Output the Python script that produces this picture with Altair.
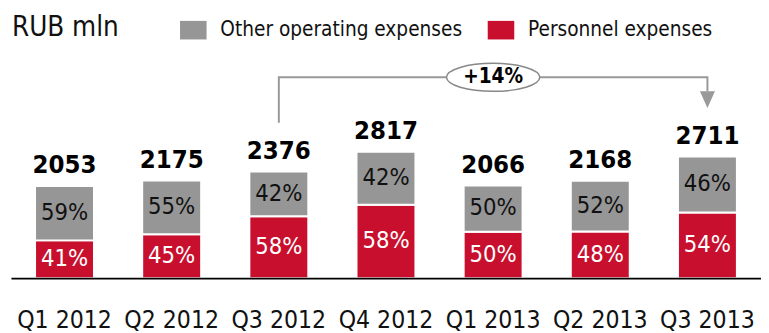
import altair as alt
import pandas as pd

quarters = ["Q1 2012", "Q2 2012", "Q3 2012", "Q4 2012", "Q1 2013", "Q2 2013", "Q3 2013"]
totals = [2053, 2175, 2376, 2817, 2066, 2168, 2711]
personnel_pct = [41, 45, 58, 58, 50, 48, 54]
other_pct = [59, 55, 42, 42, 50, 52, 46]
series_names = ["Other operating expenses", "Personnel expenses"]
growth_label = "+14%"
growth_from = "Q3 2012"
growth_to = "Q3 2013"
unit_label = "RUB mln"

GRAY = "#969696"
RED = "#C8102E"
FONT = "DejaVu Sans Condensed"

# bracket levels in data units
Y_MAX = 5957
BRACKET_START = 3460
BRACKET_LEVEL = 4474
ARROW_END = 4161
ARROW_TIP = 3975

rows = []
for q, t, pp, op in zip(quarters, totals, personnel_pct, other_pct):
    pers = t * pp / 100.0
    rows.append({"q": q, "series": series_names[1], "y0": 0, "y1": pers, "mid": pers / 2,
                 "pct": f"{pp}%", "tcolor": "white"})
    rows.append({"q": q, "series": series_names[0], "y0": pers, "y1": t, "mid": (pers + t) / 2,
                 "pct": f"{op}%", "tcolor": "#111111"})
seg = pd.DataFrame(rows)
tot = pd.DataFrame({"q": quarters, "total": totals})

xscale = alt.Scale(domain=quarters, paddingInner=0.45, paddingOuter=0.225)
yscale = alt.Scale(domain=[0, Y_MAX], nice=False, zero=True)

x_enc = alt.X("q:N", scale=xscale, sort=quarters,
              axis=alt.Axis(title=None, labelAngle=0, ticks=False, labelFont=FONT,
                            labelFontSize=25, labelColor="#111111", labelBaseline="alphabetic",
                            labelPadding=50, domainColor="black", domainWidth=2, zindex=1,
                            grid=False))

bars = alt.Chart(seg).mark_bar(stroke="white", strokeWidth=2).encode(
    x=x_enc,
    y=alt.Y("y1:Q", scale=yscale, axis=None),
    y2="y0:Q",
    color=alt.Color("series:N",
                    scale=alt.Scale(domain=series_names, range=[GRAY, RED]),
                    legend=alt.Legend(title=None, orient="none", legendX=172, legendY=6,
                                      direction="horizontal", labelFont=FONT,
                                      labelFontSize=21, labelColor="#111111",
                                      labelOffset=14, columnPadding=25, labelLimit=1000,
                                      symbolType="M-1,-0.7 L1,-0.7 L1,0.7 L-1,0.7 Z",
                                      symbolSize=729, symbolStrokeWidth=0,
                                      symbolOpacity=1)),
)

pct_text = alt.Chart(seg).mark_text(font=FONT, fontSize=24, baseline="middle").encode(
    x=alt.X("q:N", scale=xscale, sort=quarters),
    y=alt.Y("mid:Q", scale=yscale),
    text="pct:N",
    color=alt.Color("tcolor:N", scale=None),
)

tot_text = alt.Chart(tot).mark_text(font=FONT, fontSize=26, fontWeight="bold",
                                    baseline="alphabetic", dy=-13, color="black").encode(
    x=alt.X("q:N", scale=xscale, sort=quarters),
    y=alt.Y("total:Q", scale=yscale),
    text=alt.Text("total:Q", format="d"),
)

bracket = pd.DataFrame({
    "q": [growth_from, growth_from, growth_to, growth_to],
    "v": [BRACKET_START, BRACKET_LEVEL, BRACKET_LEVEL, ARROW_END],
    "o": [0, 1, 2, 3],
})
bracket_line = alt.Chart(bracket).mark_line(color="#999999", strokeWidth=2).encode(
    x=alt.X("q:N", scale=xscale, sort=quarters),
    y=alt.Y("v:Q", scale=yscale),
    order="o:Q",
)

arrow = alt.Chart(pd.DataFrame({"q": [growth_to], "v": [ARROW_TIP]})).mark_point(
    shape="M-0.9,-1 L0.9,-1 L0,1 Z", size=289, filled=True, color="#999999", opacity=1
).encode(x=alt.X("q:N", scale=xscale, sort=quarters), y=alt.Y("v:Q", scale=yscale))

mid_q = quarters[(quarters.index(growth_from) + quarters.index(growth_to)) // 2]
badge = pd.DataFrame({"q": [mid_q], "v": [BRACKET_LEVEL], "t": [growth_label]})
ellipse = alt.Chart(badge).mark_point(
    shape="M-1,0 A1,0.3 0 1,0 1,0 A1,0.3 0 1,0 -1,0 Z", size=9000, filled=True,
    fill="white", stroke="#888888", strokeWidth=1.5, opacity=1
).encode(x=alt.X("q:N", scale=xscale, sort=quarters), y=alt.Y("v:Q", scale=yscale))
badge_text = alt.Chart(badge).mark_text(font=FONT, fontSize=21, fontWeight="bold",
                                        baseline="middle", color="black").encode(
    x=alt.X("q:N", scale=xscale, sort=quarters), y=alt.Y("v:Q", scale=yscale), text="t:N")

unit = alt.Chart(pd.DataFrame({"t": [unit_label]})).mark_text(
    font=FONT, fontSize=28, align="left", baseline="alphabetic", color="#111111"
).encode(text="t:N", x=alt.value(1), y=alt.value(26))

chart = alt.layer(bars, pct_text, tot_text, bracket_line, arrow, ellipse, badge_text, unit).properties(
    width=763, height=272,
    autosize=alt.AutoSizeParams(type="none"),
    padding={"left": 3, "top": 0, "right": 0, "bottom": 53},
).configure_view(stroke=None)

chart.save("out.html", embed_options={"renderer": "svg", "actions": False})
